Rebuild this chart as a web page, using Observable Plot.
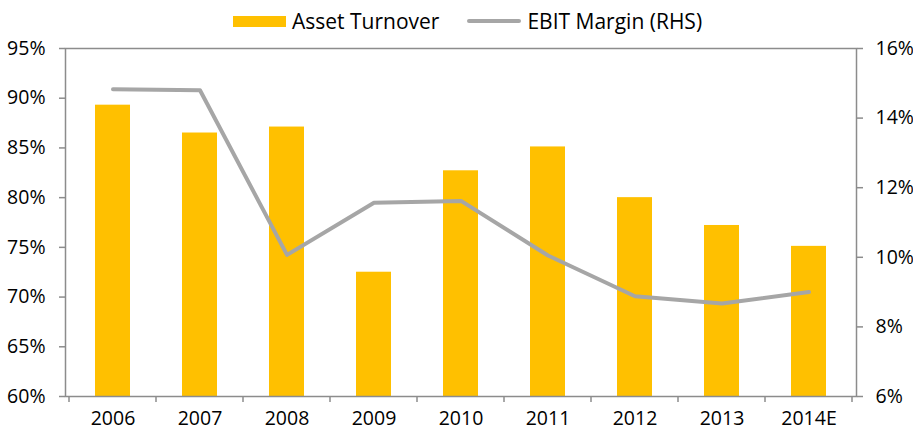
<!DOCTYPE html>
<html>
<head>
<meta charset="utf-8">
<script src="https://cdn.jsdelivr.net/npm/d3@7"></script>
<script src="https://cdn.jsdelivr.net/npm/@observablehq/plot@0.6"></script>
<style>
  html, body { margin: 0; padding: 0; background: #fff; }
  #wrap { position: relative; width: 913px; height: 430px; font-family: "Open Sans", sans-serif; }
  #legend { position: absolute; top: 7px; left: 233px; display: flex; align-items: center; font-size: 21px; color: #000; white-space: nowrap; }
  .sw-bar { width: 53px; height: 11px; background: #FFC000; margin-right: 6px; }
  .sw-line { width: 54px; height: 4px; background: #A6A6A6; margin-right: 6px; margin-left: 28px; border-radius: 2px; }
</style>
</head>
<body>
<div id="wrap">
  <div id="legend"><div class="sw-bar"></div><span>Asset Turnover</span><div class="sw-line"></div><span>EBIT Margin (RHS)</span></div>
  <div id="chart"></div>
</div>
<script>
const years = ["2006", "2007", "2008", "2009", "2010", "2011", "2012", "2013", "2014E"];
const assetTurnover = [89.3, 86.5, 87.1, 72.5, 82.7, 85.1, 80.0, 77.2, 75.1];
const ebitMargin = [14.83, 14.8, 10.07, 11.57, 11.62, 10.05, 8.88, 8.67, 9.0];
const leftTicks = [60, 65, 70, 75, 80, 85, 90, 95];
const rightTicks = [6, 8, 10, 12, 14, 16];

const leftDomain = [60, 95];
const rightDomain = [6, 16];
const toLeft = v => leftDomain[0] + (v - rightDomain[0]) * (leftDomain[1] - leftDomain[0]) / (rightDomain[1] - rightDomain[0]);
const toRight = v => rightDomain[0] + (v - leftDomain[0]) * (rightDomain[1] - rightDomain[0]) / (leftDomain[1] - leftDomain[0]);

const bars = years.map((y, i) => ({year: y, value: assetTurnover[i]}));
const line = years.map((y, i) => ({year: y, value: toLeft(ebitMargin[i])}));

const axisColor = "#8C8C8C";

const plot = Plot.plot({
  width: 913,
  height: 430,
  marginLeft: 65,
  marginRight: 57,
  marginTop: 48,
  marginBottom: 34,
  style: {fontFamily: "'Open Sans', sans-serif", fontSize: "19.5px", color: "#000", background: "#fff", overflow: "visible"},
  x: {domain: years, paddingInner: 0.6, paddingOuter: 0.3, label: null},
  y: {domain: leftDomain, label: null},
  marks: [
    Plot.barY(bars, {x: "year", y1: leftDomain[0], y2: "value", fill: "#FFC000"}),
    Plot.line(line, {x: "year", y: "value", stroke: "#A6A6A6", strokeWidth: 4, strokeLinejoin: "round", strokeLinecap: "round"}),
    Plot.frame({stroke: axisColor, strokeWidth: 1.5}),
    Plot.axisY({anchor: "left", ticks: leftTicks, tickFormat: d => d + "%", tickSize: 6, tickPadding: 14, stroke: axisColor, strokeWidth: 1.5, label: null}),
    Plot.axisY({anchor: "right", ticks: rightTicks.map(toLeft), tickFormat: d => Math.round(toRight(d)) + "%", tickSize: 6, tickPadding: 13, stroke: axisColor, strokeWidth: 1.5, label: null}),
    Plot.axisX({tickSize: 0, tickPadding: 15, label: null})
  ]
});

// category boundary ticks on the bottom axis, positioned via Plot's x scale
const xs = plot.scale("x");
const ys = plot.scale("y");
const bw = xs.bandwidth;
const step = xs.step;
const y0 = ys.apply(leftDomain[0]);
const edges = years.map(y => xs.apply(y) - (step - bw) / 2);
edges.push(xs.apply(years[years.length - 1]) + bw + (step - bw) / 2);
d3.select(plot).append("g")
  .attr("stroke", axisColor).attr("stroke-width", 1.5)
  .selectAll("line").data(edges).join("line")
  .attr("x1", d => d).attr("x2", d => d)
  .attr("y1", y0).attr("y2", y0 + 6);

document.getElementById("chart").appendChild(plot);
</script>
</body>
</html>
